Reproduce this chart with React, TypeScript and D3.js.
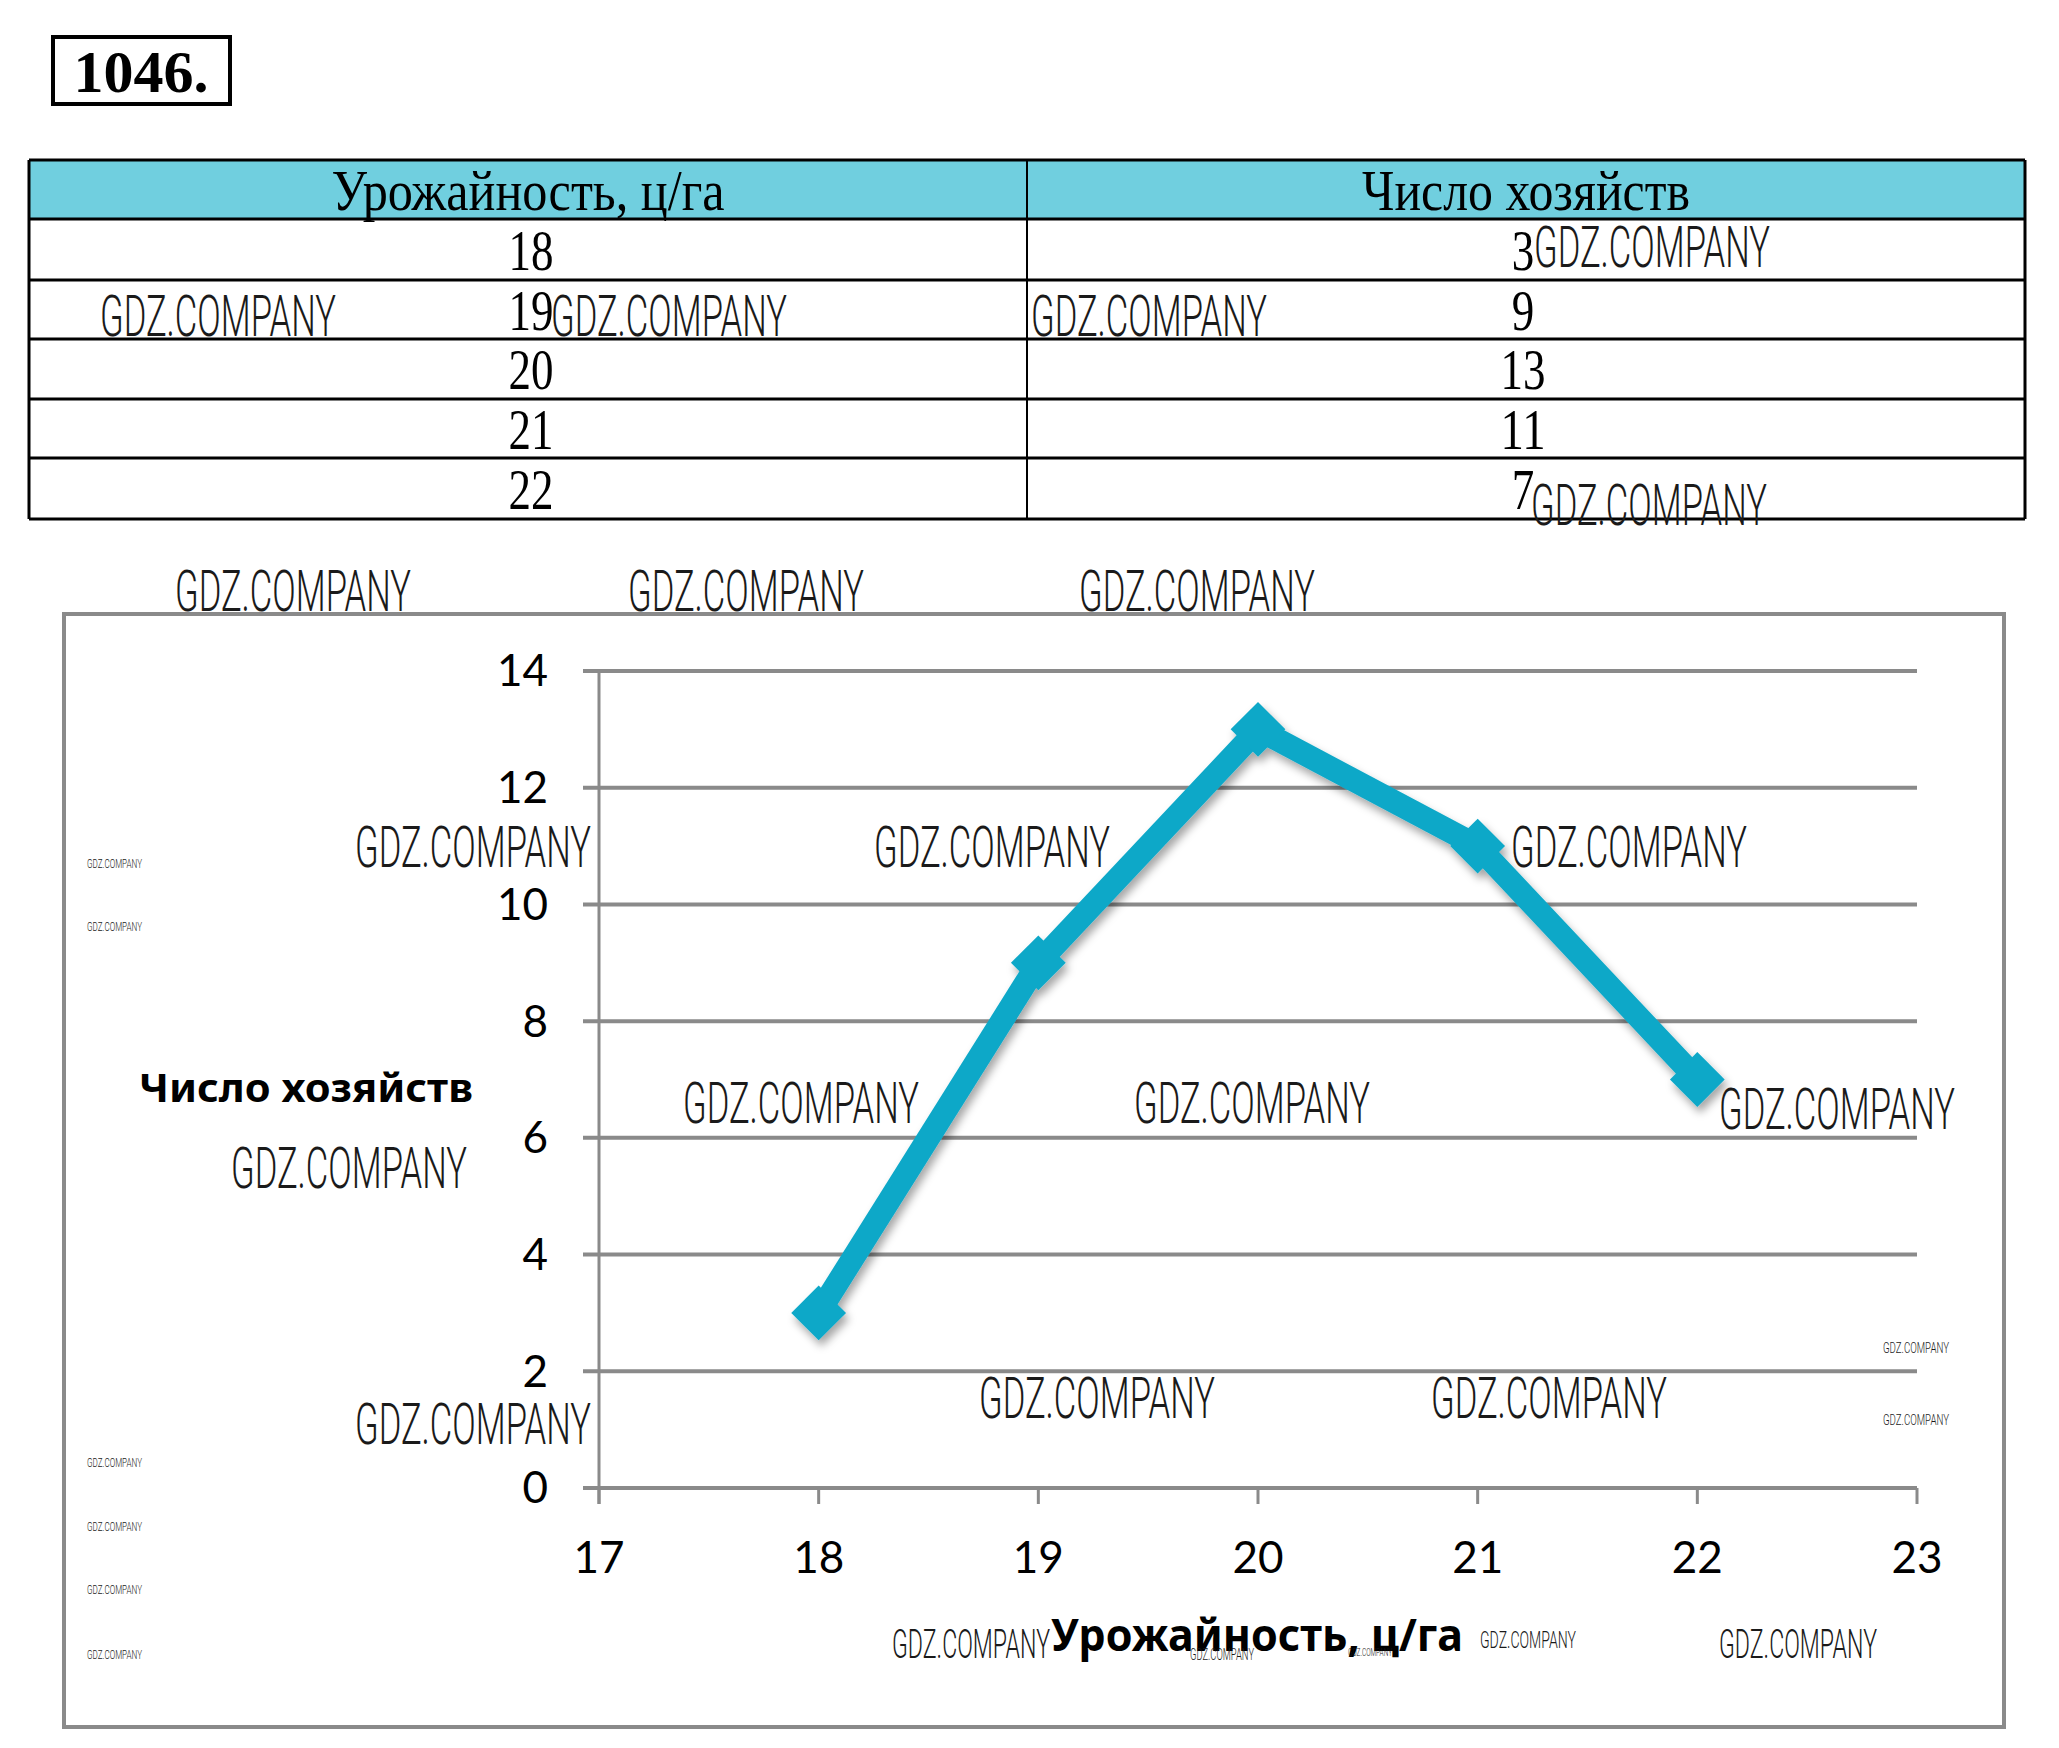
import React, { useEffect } from 'react'
import * as d3 from 'd3'

// data
const yields = [18, 19, 20, 21, 22]
const farms = [3, 9, 13, 11, 7]
const xTicks = [17, 18, 19, 20, 21, 22, 23]
const yTicks = [0, 2, 4, 6, 8, 10, 12, 14]
const headers = ['Урожайность, ц/га', 'Число хозяйств']
const xTitle = 'Урожайность,  ц/га'
const yTitle = 'Число хозяйств'
const taskNo = '1046.'

// watermarks scattered over the scan: [x, baseline, width, size]
const marks: [number, number, number, number][] = [
  [100, 336, 236, 58], [551, 336, 236, 58], [1031, 336, 236, 58],
  [1534, 267, 236, 58], [1531, 525, 236, 58],
  [175, 611, 236, 58], [628, 611, 236, 58], [1079, 611, 236, 58],
  [355, 867, 236, 58], [874, 867, 236, 58], [1511, 867, 236, 58],
  [683, 1123, 236, 58], [1134, 1123, 236, 58], [1719, 1129, 236, 58],
  [231, 1188, 236, 58], [355, 1444, 236, 58],
  [979, 1418, 236, 58], [1431, 1418, 236, 58],
  [892, 1658, 158, 40], [1719, 1658, 158, 40], [1480, 1648, 96, 24],
  [1190, 1660, 64, 16], [1348, 1656, 44, 10],
  [87, 868, 55, 13], [87, 931, 55, 13], [87, 1467, 55, 13],
  [87, 1531, 55, 13], [87, 1594, 55, 13], [87, 1659, 55, 13],
  [1883, 1353, 66, 15], [1883, 1425, 66, 15]
]

const W = 2059
const H = 1748
const teal = '#10a8c8'
const grid = '#8a8a8a'

const App: React.FC = () => {
  useEffect(() => {
    document.body.style.margin = '0'
  }, [])

  // table geometry
  const tLeft = 29
  const tRight = 2025
  const tMid = 1027
  const rowEdges = [160, 219, 280, 339, 399, 458, 519]
  const col1 = (tLeft + tMid) / 2
  const col2 = (tMid + tRight) / 2

  // chart scales
  const x = d3.scaleLinear().domain([17, 23]).range([599, 1917])
  const y = d3.scaleLinear().domain([0, 14]).range([1488, 671])
  const line = d3.line<number>()
    .x((_, i) => x(yields[i]))
    .y(d => y(d))
  const marker = d3.symbol(d3.symbolSquare, 1500)()

  const serif = '"Liberation Serif", "Times New Roman", serif'
  const sans = 'Lato, "Noto Sans", sans-serif'
  const wmFont = '"Liberation Sans Narrow", Roboto, sans-serif'

  return (
    <svg width={W} height={H} viewBox={`0 0 ${W} ${H}`} style={{ display: 'block', background: '#fff' }}>
      <defs>
        <filter id="shadow" x="-20%" y="-20%" width="140%" height="140%">
          <feDropShadow dx="3" dy="6" stdDeviation="4" floodColor="#000" floodOpacity="0.35" />
        </filter>
      </defs>

      {/* task number */}
      <rect x={53} y={37} width={177} height={67} fill="#fff" stroke="#000" strokeWidth={4} />
      <text x={141} y={92} textAnchor="middle" fontFamily={serif} fontWeight="bold" fontSize={60}>{taskNo}</text>

      {/* table */}
      <rect x={tLeft} y={rowEdges[0]} width={tRight - tLeft} height={rowEdges[1] - rowEdges[0]} fill="#70cfdf" />
      {rowEdges.map((ry, i) => (
        <line key={'r' + i} x1={tLeft} x2={tRight} y1={ry} y2={ry} stroke="#000" strokeWidth={3} />
      ))}
      <line x1={tLeft} x2={tLeft} y1={rowEdges[0]} y2={rowEdges[6]} stroke="#000" strokeWidth={3} />
      <line x1={tMid} x2={tMid} y1={rowEdges[0]} y2={rowEdges[6]} stroke="#000" strokeWidth={2} />
      <line x1={tRight} x2={tRight} y1={rowEdges[0]} y2={rowEdges[6]} stroke="#000" strokeWidth={3} />
      <text x={col1} y={210} textAnchor="middle" fontFamily={serif} fontSize={56}
        textLength={393} lengthAdjust="spacingAndGlyphs">{headers[0]}</text>
      <text x={col2} y={210} textAnchor="middle" fontFamily={serif} fontSize={56}
        textLength={328} lengthAdjust="spacingAndGlyphs">{headers[1]}</text>
      {yields.map((v, i) => {
        const base = (rowEdges[i + 1] + rowEdges[i + 2]) / 2 + 20
        const a = String(v)
        const b = String(farms[i])
        return (
          <g key={'row' + i}>
            <text x={col1 + 3} y={base} textAnchor="middle" fontFamily={serif} fontSize={58}
              textLength={a.length * 22.5} lengthAdjust="spacingAndGlyphs">{a}</text>
            <text x={col2 - 3} y={base} textAnchor="middle" fontFamily={serif} fontSize={58}
              textLength={b.length * 22.5} lengthAdjust="spacingAndGlyphs">{b}</text>
          </g>
        )
      })}

      {/* chart frame */}
      <rect x={64} y={614} width={1940} height={1113} fill="none" stroke={grid} strokeWidth={4} />

      {/* grid and y ticks */}
      {yTicks.map(t => (
        <g key={'y' + t}>
          <line x1={583} x2={x(23)} y1={y(t)} y2={y(t)} stroke={grid} strokeWidth={4} />
          <text x={548} y={y(t)} dy="0.35em" textAnchor="end" fontFamily={sans} fontSize={44} fill="#000">{t}</text>
        </g>
      ))}
      <line x1={x(17)} x2={x(17)} y1={y(14)} y2={y(0) + 16} stroke={grid} strokeWidth={3} />
      {xTicks.map(t => (
        <g key={'x' + t}>
          <line x1={x(t)} x2={x(t)} y1={y(0)} y2={y(0) + 16} stroke={grid} strokeWidth={3} />
          <text x={x(t)} y={1558} dy="0.35em" textAnchor="middle" fontFamily={sans} fontSize={44} fill="#000">{t}</text>
        </g>
      ))}

      {/* series */}
      <g filter="url(#shadow)">
        <path d={line(farms) || ''} fill="none" stroke={teal} strokeWidth={23} strokeLinejoin="miter" />
        {farms.map((v, i) => (
          <path key={'m' + i} d={marker || ''} fill={teal}
            transform={`translate(${x(yields[i])},${y(v)}) rotate(45)`} />
        ))}
      </g>

      {/* axis titles */}
      <text x={139} y={1102} fontFamily='"Noto Sans", sans-serif' fontWeight="bold" fontSize={40}
        textLength={334} lengthAdjust="spacingAndGlyphs">{yTitle}</text>
      <text x={1051} y={1651} fontFamily='"Noto Sans", sans-serif' fontWeight="bold" fontSize={44}
        textLength={412} lengthAdjust="spacingAndGlyphs">{xTitle}</text>

      {/* watermarks */}
      {marks.map(([mx, my, mw, ms], i) => (
        <text key={'w' + i} x={mx} y={my} fontFamily={wmFont} fontWeight={300} fontSize={ms}
          fill="#1a1a1a" textLength={mw} lengthAdjust="spacingAndGlyphs">GDZ.COMPANY</text>
      ))}
    </svg>
  )
}

export default App
